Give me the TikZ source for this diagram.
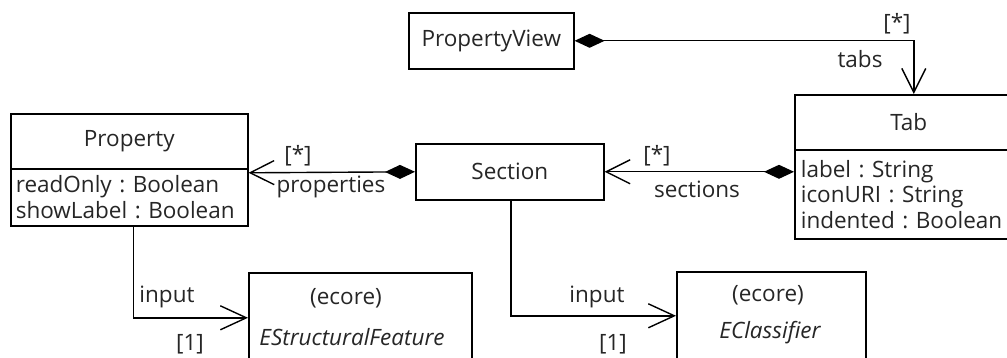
\documentclass[tikz,border=0pt]{standalone}
\usepackage{fontspec}
\setmainfont{Open Sans}
\frenchspacing
\usetikzlibrary{arrows.meta}
\begin{document}
\begin{tikzpicture}[x=1pt,y=-1pt,
  every node/.style={font=\fontsize{22.5}{25.5}\selectfont, text=black!85},
  box/.style={draw=black, line width=1.6pt, inner sep=0pt, anchor=north west},
  lbl/.style={inner sep=0pt},
  conn/.style={draw=black, line width=1.4pt},
  comp/.style={conn, {Diamond[length=30pt,width=14pt]}-{Straight Barb[length=24pt,width=24pt,line width=1.4pt]}},
  assoc/.style={conn, -{Straight Barb[length=26pt,width=24pt,line width=1.4pt]}}
]
\useasboundingbox (0,0) rectangle (1007,358);
\fill[white] (0,0) rectangle (1007,358);
% PropertyView
\node[box, minimum width=165pt, minimum height=56pt] (pv) at (408,12) {PropertyView};
% Tab
\node[box, minimum width=228pt, minimum height=55pt] (tabh) at (794,94) {Tab};
\node[box, minimum width=228pt, minimum height=89pt, text width=216pt, align=left, inner xsep=6pt] (taba) at (794,149) {label : String\\iconURI : String\\indented : Boolean};
% Section
\node[box, minimum width=188pt, minimum height=56pt] (sec) at (415,143) {Section};
% Property
\node[box, minimum width=237pt, minimum height=55pt] (proph) at (10,113) {Property};
\node[box, minimum width=237pt, minimum height=57pt, text width=227pt, align=left, inner xsep=5pt] (propa) at (10,168) {readOnly : Boolean\\showLabel : Boolean};
% EStructuralFeature
\node[box, minimum width=223pt, minimum height=90pt] (esf) at (248,272) {};
\node[lbl] (esf1) at (346,298) {(ecore)};
\node[lbl] (esf2) at (352,337) {\itshape EStructuralFeature};
% EClassifier
\node[box, minimum width=189pt, minimum height=88pt] (ecl) at (676,271) {};
\node[lbl] (ecl1) at (768,295) {(ecore)};
\node[lbl] (ecl2) at (770,333) {\itshape EClassifier};
% connectors
\draw[comp] (pv.east) -| ([xshift=5pt]tabh.north);
\draw[comp] (taba.west |- sec.east) -- (sec.east);
\draw[comp] (sec.west) -- ([yshift=-1pt]sec.west -| proph.east);
\draw[assoc] ([xshift=4pt]propa.south) |- (esf.west);
\draw[assoc] ([xshift=1pt]sec.south) |- (ecl.west);
% labels
\node[lbl] (l1) at (897,24) {[*]};
\node[lbl] (l2) at (860,59) {tabs};
\node[lbl] (l3) at (657,156) {[*]};
\node[lbl] (l4) at (697,189) {sections};
\node[lbl] (l5) at (298,156) {[*]};
\node[lbl] (l6) at (331,187) {properties};
\node[lbl] (l7) at (167,297) {input};
\node[lbl] (l8) at (190,344) {[1]};
\node[lbl] (l9) at (597,297) {input};
\node[lbl] (l10) at (613,344) {[1]};
\end{tikzpicture}
\end{document}
